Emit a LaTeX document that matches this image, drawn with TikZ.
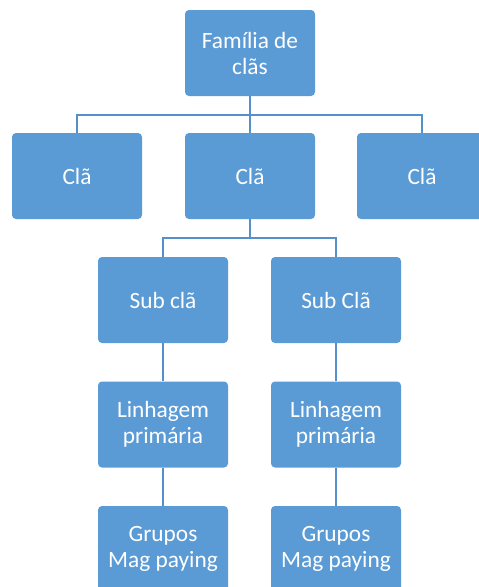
\documentclass[tikz,border=0pt]{standalone}
\usepackage{fontspec}
\setmainfont{Carlito}
\definecolor{boxblue}{HTML}{5B9BD5}
\definecolor{lineblue}{HTML}{5590CC}
\begin{document}
\begin{tikzpicture}[x=0.75pt,y=-0.75pt,
  orgbox/.style={fill=boxblue, draw=none, rounded corners=3pt, minimum width=97.5pt, minimum height=64.5pt, text=white, align=center, inner sep=0pt, font=\fontsize{17.5}{19.5}\selectfont},
  link/.style={draw=lineblue, line width=1.5pt}]
\clip (0,0) rectangle (479,587);
\fill[white] (0,0) rectangle (479,587);
\node[orgbox] (top) at (250,53) {Família de\\clãs};
\node[orgbox] (c1) at (77,176) {Clã};
\node[orgbox] (c2) at (250,176) {Clã};
\node[orgbox] (c3) at (422,176) {Clã};
\node[orgbox] (s1) at (163,300) {Sub clã};
\node[orgbox] (s2) at (336,300) {Sub Clã};
\node[orgbox] (l1) at (163,424.5) {Linhagem\\primária};
\node[orgbox] (l2) at (336,424.5) {Linhagem\\primária};
\node[orgbox] (g1) at (163,549) {Grupos\\Mag paying};
\node[orgbox] (g2) at (336,549) {Grupos\\Mag paying};
\coordinate (b1) at (250,115);
\coordinate (b2) at (250,238);
\draw[link] (top.south) -- (c2.north);
\draw[link] (b1) -| (c1.north);
\draw[link] (b1) -| (c3.north);
\draw[link] (c2.south) -- (b2);
\draw[link] (b2) -| (s1.north);
\draw[link] (b2) -| (s2.north);
\draw[link] (s1.south) -- (l1.north);
\draw[link] (s2.south) -- (l2.north);
\draw[link] (l1.south) -- (g1.north);
\draw[link] (l2.south) -- (g2.north);
\end{tikzpicture}
\end{document}
